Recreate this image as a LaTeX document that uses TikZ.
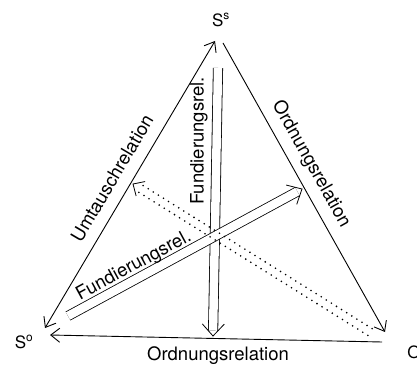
\documentclass[tikz,border=0pt]{standalone}
\usepackage{fontspec}
\setmainfont{TeX Gyre Heros}
\usetikzlibrary{arrows.meta,calc}
\newcommand\myvhead[4]{\draw[line width=0.8pt,line join=miter]
  ($(#1)!#3!(#2)!#4!90:(#2)$) -- (#1) -- ($(#1)!#3!(#2)!#4!-90:(#2)$);}
\begin{document}
\begin{tikzpicture}[x=1pt,y=-1pt,
  >={Straight Barb[length=9pt,width=14pt,line width=0.9pt]},
  edge/.style={line width=0.9pt},
  lbl/.style={font=\fontsize{18.5}{18.5}\selectfont, inner sep=0pt},
  vlbl/.style={font=\fontsize{17}{17}\selectfont, inner sep=0pt},
  dblshaft/.style={double, double distance=8.5pt, line width=0.8pt},
  dotline/.style={line width=1.8pt, line cap=round, dash pattern=on 0pt off 6pt}]
\useasboundingbox (0,0) rectangle (417,371);
\clip (0,0) rectangle (417,371);
% vertex labels
\node[vlbl] (Ss) at (221,20) {S\textsuperscript{s}};
\node[vlbl] (So) at (24,342) {S\textsuperscript{o}};
\node[vlbl] (Ou) at (414,352) {O};
% vertex coordinates
\coordinate (top) at (215,41);
\coordinate (topR) at (223,43);
\coordinate (bl) at (45,328);
\coordinate (blB) at (50,335);
\coordinate (br) at (385,332);
\coordinate (brB) at (382,342);
% triangle edges
\draw[edge,<->] (bl) -- (top);
\draw[edge,->] (topR) -- (br);
\draw[edge,->] (brB) -- (blB);
% vertical double arrow
\coordinate (vA) at (218,68);
\coordinate (vT) at (213,336);
\draw[dblshaft, shorten >=5.3pt] (vA) -- (vT);
\myvhead{vT}{vA}{12pt}{11pt}
% diagonal double arrow
\coordinate (dA) at (68,316);
\coordinate (dT) at (302,189);
\draw[dblshaft, shorten >=5.3pt] (dA) -- (dT);
\myvhead{dT}{dA}{12pt}{11pt}
% dotted double arrow
\coordinate (pA) at (370,332);
\coordinate (pT) at (133,184);
\coordinate (pE) at ($(pT)!4.5pt!(pA)$);
\draw[dotline] ($(pA)!4pt!90:(pT)$) -- ($(pE)!4pt!-90:(pA)$);
\draw[dotline] ($(pA)!4pt!-90:(pT)$) -- ($(pE)!4pt!90:(pA)$);
\myvhead{pT}{pA}{9pt}{8.5pt}
% labels
\node[lbl, rotate=59.4] (lU) at (112,178) {Umtauschrelation};
\node[lbl, rotate=-60.7] (lO) at (311,164) {Ordnungsrelation};
\node[lbl, rotate=90] (lF) at (199,141) {Fundierungsrel.};
\node[lbl, rotate=28.5] (lD) at (134,266) {Fundierungsrel.};
\node[lbl] (lB) at (218,356) {Ordnungsrelation};
\end{tikzpicture}
\end{document}
